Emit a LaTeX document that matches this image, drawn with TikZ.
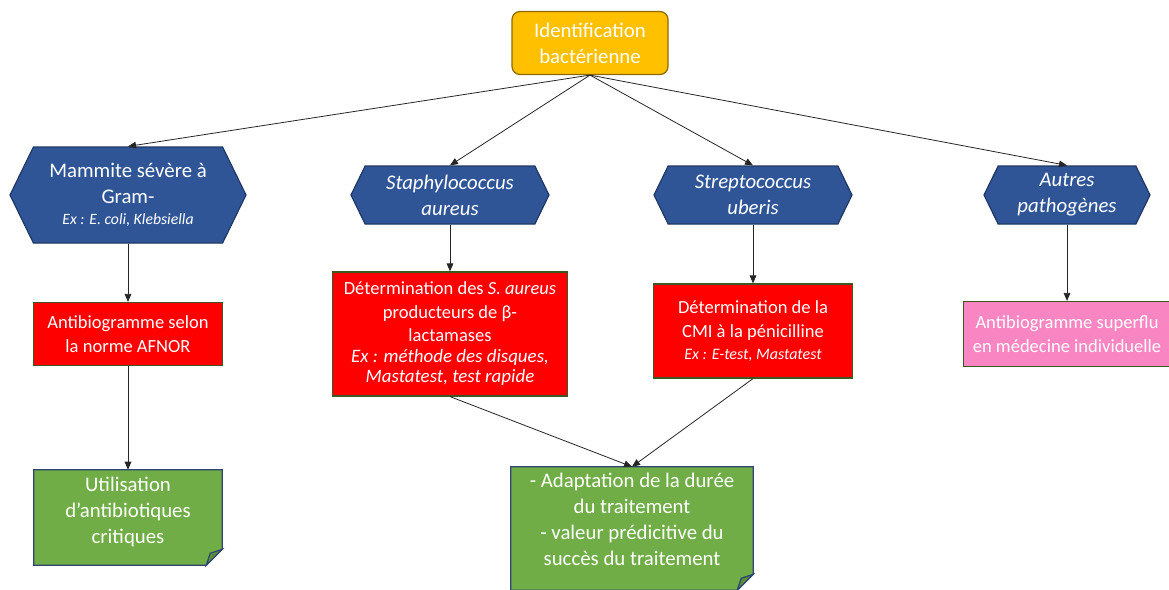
\documentclass[tikz,border=0pt]{standalone}
\usepackage{fontspec}
\setmainfont{Carlito}
\usetikzlibrary{shapes.symbols,arrows.meta,backgrounds}

\definecolor{idgold}{HTML}{FFC000}
\definecolor{idgoldline}{HTML}{8C6A00}
\definecolor{hexblue}{HTML}{2F5597}
\definecolor{hexline}{HTML}{203864}
\definecolor{boxred}{HTML}{FF0000}
\definecolor{boxline}{HTML}{3A5A22}
\definecolor{boxpink}{HTML}{F986C2}
\definecolor{notegreen}{HTML}{70AD47}
\definecolor{notefold}{HTML}{5A8E37}
\definecolor{noteline}{HTML}{2E4574}

\newcommand{\bigtxt}{\fontsize{15.6}{19.5}\selectfont}
\newcommand{\boxtxt}{\fontsize{13.9}{17.5}\selectfont}
\newcommand{\hexnote}{\fontsize{11.8}{15}\selectfont\itshape}
\newcommand{\exbig}{\fontsize{14.2}{16}\selectfont\itshape}
\newcommand{\exsmall}{\fontsize{12}{15}\selectfont\itshape}

% green note with a folded corner, drawn behind a node
\newcommand{\foldnote}[2][0pt]{%
  \filldraw[fill=notegreen, draw=noteline, line width=0.9pt]
    (#2.north west) -- (#2.north east)
    -- ([yshift=-#1+12pt]#2.south east) -- ([xshift=-12pt,yshift=-#1]#2.south east)
    -- ([yshift=-#1]#2.south west) -- cycle;
  \filldraw[fill=notefold, draw=noteline, line width=0.9pt]
    ([xshift=-12pt,yshift=-#1]#2.south east) -- ([xshift=-9pt,yshift=-#1+9pt]#2.south east)
    -- ([yshift=-#1+12pt]#2.south east) -- cycle;
}

\tikzset{
  base/.style={align=center, text=white, inner sep=2pt},
  idbox/.style={base, draw=idgoldline, fill=idgold, rounded corners=6pt, line width=0.9pt,
    minimum width=117pt, minimum height=47.25pt, font=\bigtxt},
  hexbox/.style={base, signal, signal to=west and east, signal pointer angle=128,
    draw=hexline, fill=hexblue, line width=0.9pt, font=\bigtxt},
  testbox/.style={base, draw=boxline, fill=boxred, line width=0.9pt, font=\boxtxt},
  notebox/.style={base, font=\bigtxt},
  link/.style={-{Triangle[length=6pt,width=5pt]}, line width=0.6pt, color=black!85}
}

\begin{document}
\begin{tikzpicture}[x=0.75pt, y=-0.75pt]
\useasboundingbox (0,0) rectangle (1169,589);

% root
\node[idbox] (ident) at (590,43) {Identification\\ bactérienne};

% pathogens
\node[hexbox, minimum width=177pt, minimum height=72pt] (gram) at (128,195)
  {Mammite sévère à\\ Gram-\\[-4pt] {\hexnote Ex : E. coli, Klebsiella}};
\node[hexbox, minimum width=148.5pt, minimum height=43.5pt] (staph) at (450,195)
  {\textit{Staphylococcus}\\ \textit{aureus}};
\node[hexbox, minimum width=148.5pt, minimum height=43.5pt] (strep) at (753,195)
  {\textit{Streptococcus}\\ \textit{uberis}};
\node[hexbox, minimum width=124.5pt, minimum height=43.5pt] (autres) at (1067,195)
  {\textit{Autres}\\ \textit{pathogènes}};

% tests
\node[testbox, minimum width=141.75pt, minimum height=47.25pt] (afnor) at (128,334)
  {Antibiogramme selon\\ la norme AFNOR};
\node[testbox, minimum width=176.25pt, minimum height=93pt] (betalact) at (450,334)
  {Détermination des \textit{S. aureus}\\ producteurs de β-\\ lactamases\\[-2pt]
   {\exbig Ex : méthode des disques,}\\[-2pt] {\exbig Mastatest, test rapide}};
\node[testbox, minimum width=149.25pt, minimum height=70.5pt] (cmi) at (753,331)
  {Détermination de la\\ CMI à la pénicilline\\[-1pt] {\exsmall Ex : E-test, Mastatest}};
\node[testbox, fill=boxpink, minimum width=155.25pt, minimum height=48.75pt] (superflu) at (1067,334)
  {Antibiogramme superflu\\ en médecine individuelle};

% outcomes
\node[notebox, minimum width=141pt, minimum height=63pt] (critiques) at (128,512)
  {Utilisation\\ d’antibiotiques\\ critiques};
\node[notebox, minimum width=181.5pt, minimum height=78.75pt] (duree) at (632,519.5)
  {- Adaptation de la durée\\ du traitement\\ - valeur prédicitive du\\ succès du traitement};

\begin{scope}[on background layer]
  \foldnote[8.25pt]{critiques}
  \foldnote[13.5pt]{duree}
\end{scope}

\path[link]
  (ident.south) edge (gram.north)
  (ident.south) edge (staph.north)
  (ident.south) edge (strep.north)
  (ident.south) edge (autres.north)
  (gram.south) edge (afnor.north)
  (staph.south) edge (betalact.north)
  (strep.south) edge (cmi.north)
  (autres.south) edge (superflu.north)
  (afnor.south) edge (critiques.north)
  (betalact.south) edge (duree.north)
  (cmi.south) edge (duree.north);
\end{tikzpicture}
\end{document}
